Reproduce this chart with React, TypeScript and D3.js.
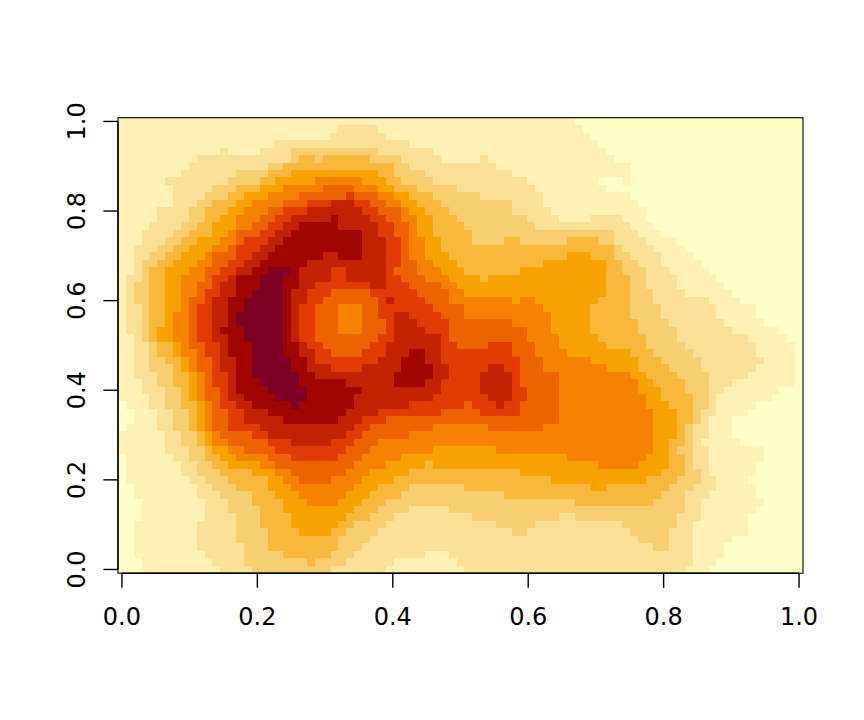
import React from "react";
import * as d3 from "d3";

// Each row (top to bottom) lists runs "level:endColumn"; whatever remains up to the last column is level 0.
const rows: string[] = [
  "1:58",
  "1:28,2:33,1:59",
  "1:27,2:34,1:60",
  "1:20,2:37,1:61",
  "1:13,2:14,1:18,2:22,3:33,2:40,1:62",
  "1:10,2:22,3:23,4:25,3:26,4:32,3:36,2:41,1:46,2:47,1:63",
  "1:9,2:19,3:21,4:35,3:37,2:48,1:65",
  "1:8,2:15,3:19,4:22,5:33,4:35,3:39,2:50,1:65",
  "1:6,2:14,3:18,4:20,5:25,6:31,5:34,4:36,3:40,2:52,1:61,0:64,1:65",
  "1:7,2:12,3:15,4:18,5:21,6:26,7:30,6:33,5:35,4:38,3:43,2:53,1:62",
  "1:7,2:11,3:14,4:16,5:19,6:23,7:29,8:30,7:33,6:35,5:37,4:40,3:46,2:54,1:65",
  "1:7,2:10,3:12,4:15,5:17,6:21,7:24,8:27,9:30,8:32,7:34,6:36,5:38,4:41,3:50,2:54,1:66",
  "1:5,2:9,3:11,4:14,5:16,6:19,7:21,8:24,9:31,8:33,7:36,6:37,5:39,4:42,3:50,2:55,1:67",
  "1:5,2:9,3:11,4:13,5:15,6:18,7:20,8:22,9:27,10:28,9:32,8:34,7:36,6:38,5:40,4:43,3:52,2:56,1:60,2:64,1:67",
  "1:4,2:8,3:10,4:12,5:15,6:17,7:19,8:21,9:23,10:28,9:33,8:35,7:37,6:38,5:40,4:44,3:53,2:65,1:68",
  "1:3,2:7,3:9,4:12,5:14,6:15,7:18,8:20,9:22,10:31,9:33,8:35,7:37,6:38,5:40,4:45,3:63,2:66,1:69",
  "1:3,2:6,3:8,4:10,5:13,6:15,7:16,8:19,9:21,10:31,9:34,8:36,7:37,6:39,5:41,4:45,3:49,4:51,3:57,4:61,3:63,2:67,1:71",
  "1:2,2:5,3:7,4:9,5:12,6:14,7:15,8:18,9:20,10:31,9:34,8:36,7:37,6:39,5:41,4:63,3:64,2:68,1:72",
  "1:2,2:4,3:6,4:8,5:11,6:12,7:15,8:17,9:19,10:26,9:28,10:31,9:34,8:36,7:37,6:39,5:42,4:57,5:60,4:63,3:65,2:69,1:73",
  "1:2,2:3,3:5,4:7,5:10,6:12,7:14,8:16,9:18,10:24,9:34,8:36,7:38,6:40,5:43,4:54,5:62,4:64,3:66,2:69,1:74",
  "1:2,2:3,3:4,4:6,5:9,6:11,7:13,8:15,9:17,10:19,11:22,10:23,9:27,8:29,9:34,8:35,7:38,6:41,5:44,4:51,5:62,4:64,3:67,2:70,1:75",
  "1:1,2:3,3:4,4:6,5:8,6:11,7:12,8:14,9:15,10:18,11:21,10:23,9:27,8:29,9:34,8:36,7:39,6:42,5:46,4:47,5:62,4:65,3:67,2:71,1:76",
  "1:1,2:2,3:4,4:6,5:8,6:10,7:12,8:13,9:15,10:18,11:21,10:23,9:25,8:32,9:34,8:37,7:41,6:43,5:62,4:65,3:67,2:71,1:77",
  "1:1,2:2,3:4,4:6,5:8,6:10,7:11,8:13,9:15,10:17,11:21,10:22,9:24,8:27,7:32,8:38,7:42,6:44,5:62,4:65,3:68,2:72,1:78",
  "1:1,2:2,3:4,4:6,5:8,6:9,7:11,8:12,9:14,10:16,11:21,10:22,9:24,8:26,7:33,8:34,9:35,8:39,7:42,6:50,5:51,6:53,5:61,4:65,3:68,2:75,1:79",
  "1:1,2:3,3:4,4:6,5:8,6:9,7:10,8:12,9:14,10:16,11:21,10:22,9:23,8:25,7:28,6:31,7:33,8:40,7:44,6:54,5:60,4:65,3:69,2:76,1:81",
  "1:1,2:3,3:4,4:6,5:7,6:9,7:10,8:12,9:14,10:15,11:21,10:22,9:23,8:25,7:28,6:31,7:33,8:35,9:37,8:41,7:44,6:55,5:60,4:65,3:69,2:76,1:81",
  "1:1,2:3,3:4,4:6,5:7,6:9,7:10,8:12,9:14,10:15,11:21,10:22,9:23,8:25,7:28,6:31,7:34,8:35,9:38,8:42,7:50,6:55,5:60,4:66,3:70,2:77,1:82",
  "1:1,2:3,3:4,4:5,5:7,6:9,7:10,8:12,9:13,10:16,11:21,10:22,9:23,8:25,7:28,6:31,7:34,8:35,9:39,8:42,7:52,6:55,5:60,4:66,3:71,2:78,1:84",
  "1:2,2:3,3:4,4:5,5:7,6:9,7:10,8:12,9:14,10:16,11:21,10:22,9:23,8:25,7:33,8:35,9:41,8:42,7:52,6:56,5:61,4:67,3:71,2:80,1:85",
  "1:2,2:4,3:5,4:7,5:8,6:9,7:11,8:13,9:14,10:17,11:21,10:23,9:24,8:26,7:32,8:34,9:41,8:43,7:47,8:50,7:53,6:56,5:62,4:67,3:72,2:81,1:86",
  "1:2,2:4,3:5,4:7,5:8,6:10,7:11,8:13,9:14,10:17,11:21,10:23,9:25,8:27,7:31,8:34,9:37,10:39,9:41,8:50,7:53,6:57,5:65,4:68,3:73,2:81,1:86",
  "1:2,2:4,3:6,4:8,5:9,6:10,7:12,8:13,9:15,10:17,11:22,10:24,9:25,8:33,9:36,10:39,9:41,8:51,7:54,6:60,5:66,4:69,3:74,2:82,1:86",
  "1:2,2:4,3:7,4:8,5:9,6:10,7:12,8:13,9:15,10:17,11:22,10:24,9:27,8:31,9:36,10:40,9:42,8:47,9:49,8:51,7:54,6:62,5:66,4:70,3:74,2:81,1:86",
  "1:2,2:5,3:7,4:9,5:10,6:11,7:12,8:14,9:15,10:17,11:23,10:25,9:35,10:40,9:42,8:46,9:50,8:51,7:56,6:65,5:67,4:71,3:75,2:80,1:86",
  "1:3,2:5,3:7,4:9,5:10,6:11,7:12,8:14,9:15,10:18,11:23,10:29,9:35,10:39,9:41,8:46,9:50,8:51,7:56,6:66,5:68,4:72,3:75,2:78,1:86",
  "1:3,2:6,3:8,4:9,5:10,6:11,7:13,8:14,9:15,10:19,11:24,10:31,9:41,8:46,9:50,8:52,7:56,6:66,5:69,4:72,3:75,2:77,1:84",
  "1:4,2:6,3:8,4:9,5:10,6:11,7:13,8:14,9:16,10:20,11:24,10:30,9:40,8:47,9:50,8:52,7:56,6:67,5:69,4:73,3:75,2:76,1:83",
  "0:1,1:4,2:6,3:8,4:10,5:11,6:12,7:13,8:15,9:17,10:22,11:23,10:30,9:37,8:44,7:45,8:48,9:49,8:51,7:56,6:67,5:70,4:73,3:75,2:76,1:81",
  "0:2,1:5,2:7,3:9,4:10,5:11,6:12,7:14,8:16,9:19,10:29,9:33,8:41,7:46,8:51,7:56,6:68,5:71,4:73,3:74,2:76,1:80",
  "0:2,1:5,2:7,3:9,4:10,5:11,6:12,7:14,8:16,9:21,10:28,9:31,8:34,7:56,6:68,5:71,4:73,3:74,2:75,1:78",
  "0:1,1:5,2:7,3:9,4:10,5:11,6:12,7:14,8:18,9:30,8:32,7:40,6:47,7:54,6:68,5:71,4:72,3:73,2:75,1:78",
  "1:6,2:8,3:10,4:11,5:12,6:13,7:17,8:19,9:29,8:31,7:37,6:68,5:71,4:72,3:73,2:75,1:78",
  "1:6,2:8,3:10,4:11,5:12,6:14,7:19,8:22,9:27,8:30,7:33,6:68,5:70,4:72,3:73,2:74,1:79",
  "1:6,2:9,3:11,4:12,5:14,6:16,7:20,8:29,7:32,6:40,5:48,6:68,5:70,4:71,3:73,2:75,1:82",
  "0:1,1:7,2:9,3:11,4:13,5:15,6:19,7:22,8:28,7:31,6:36,5:57,6:67,5:70,4:72,3:73,2:75,1:82",
  "0:1,1:8,2:10,3:12,4:14,5:18,6:20,7:30,6:34,5:39,4:40,5:61,6:66,5:70,4:72,3:73,2:75,1:81",
  "0:1,1:8,2:10,3:13,4:17,5:20,6:22,7:29,6:32,5:37,4:51,5:69,4:72,3:74,2:75,1:81",
  "0:1,1:9,2:11,3:14,4:19,5:21,6:23,7:27,6:31,5:35,4:55,5:67,4:71,3:74,2:76,1:80",
  "0:2,1:10,2:12,3:15,4:19,5:22,6:30,5:33,4:37,3:44,4:60,5:62,4:70,3:73,2:76,1:81",
  "0:2,1:10,2:13,3:17,4:20,5:23,6:29,5:32,4:36,3:49,4:69,3:72,2:75,1:81",
  "0:3,1:11,2:14,3:17,4:21,5:24,6:28,5:31,4:34,3:58,4:68,3:72,2:74,1:82",
  "0:3,1:11,2:14,3:18,4:21,5:30,4:33,3:37,2:42,3:72,2:74,1:81",
  "0:3,1:11,2:15,3:18,4:22,5:29,4:32,3:35,2:45,3:56,2:58,3:71,2:74,1:80",
  "0:2,1:10,2:15,3:18,4:22,5:28,4:30,3:34,2:48,3:53,2:64,3:71,2:73,1:80",
  "0:2,1:10,2:15,3:19,4:23,5:27,4:29,3:33,2:50,3:52,2:65,3:70,2:73,1:80",
  "0:2,1:10,2:15,3:19,4:28,3:32,2:66,3:70,2:73,1:78",
  "0:2,1:10,2:16,3:19,4:28,3:31,2:68,3:70,2:73,1:77",
  "0:2,1:11,2:16,3:21,4:27,3:30,2:39,1:42,2:73,1:77",
  "0:3,1:12,2:16,3:24,4:25,3:29,2:35,1:43,2:73,1:76",
  "0:3,1:13,2:17,3:27,2:34,1:44,2:72,1:75",
];

const palette = [
  "#FFFFC8", "#FEF1B4", "#FBE097", "#F7CF70", "#F8B83B", "#F6A200",
  "#F58300", "#ED6300", "#E03B00", "#C32200", "#A10500", "#7D0025",
];

const tickValues = [0, 0.2, 0.4, 0.6, 0.8, 1];
const nCols = 87;
const nRows = rows.length;

function expand(row: string): number[] {
  const out: number[] = new Array(nCols).fill(0);
  let start = 0;
  row.split(",").forEach((tok) => {
    const [lvl, end] = tok.split(":").map(Number);
    for (let i = start; i < end; i++) out[i] = lvl;
    start = end;
  });
  return out;
}

const left = 118;
const right = 803;
const top = 117.7;
const bottom = 573.2;
const INK = "#000";
const FONT = "'DejaVu Sans', sans-serif";

export default function App() {
  const xs = d3.scaleLinear().domain([-0.5 / (nCols - 1), 1 + 0.5 / (nCols - 1)]).range([left, right]);
  const ys = d3.scaleLinear().domain([-0.5 / (nRows - 1), 1 + 0.5 / (nRows - 1)]).range([bottom, top]);
  const colX = d3.scaleLinear().domain([0, nCols]).range([left, right]);
  const rowY = d3.scaleLinear().domain([0, nRows]).range([top, bottom]);
  const colour = d3.scaleOrdinal<number, string>().domain(d3.range(palette.length)).range(palette);
  const fmt = d3.format(".1f");
  const grid = rows.map(expand);

  return (
    <svg width={864} height={720} style={{ position: "absolute", left: 0, top: 0, background: "#fff" }}>
      <g shapeRendering="crispEdges">
        {grid.map((cells, r) =>
          cells.map((lvl, c) => (
            <rect
              key={`${r}-${c}`}
              x={colX(c)}
              y={rowY(r)}
              width={colX(c + 1) - colX(c)}
              height={rowY(r + 1) - rowY(r)}
              fill={colour(lvl)}
            />
          ))
        )}
      </g>
      <rect x={left} y={top} width={right - left} height={bottom - top} fill="none" stroke={INK} strokeWidth={1.1} />
      <g stroke={INK} strokeWidth={1.4} fill="none">
        <line x1={xs(0)} x2={xs(1)} y1={bottom} y2={bottom} />
        {tickValues.map((t) => (
          <line key={t} x1={xs(t)} x2={xs(t)} y1={bottom} y2={bottom + 14.6} />
        ))}
        <line y1={ys(0)} y2={ys(1)} x1={left} x2={left} />
        {tickValues.map((t) => (
          <line key={t} y1={ys(t)} y2={ys(t)} x1={left} x2={left - 14.6} />
        ))}
      </g>
      <g fontFamily={FONT} fontSize={24} fill={INK} textAnchor="middle">
        {tickValues.map((t) => (
          <text key={t} x={xs(t)} y={625}>{fmt(t)}</text>
        ))}
        {tickValues.map((t) => (
          <text key={t} transform={`translate(85,${ys(t)}) rotate(-90)`}>{fmt(t)}</text>
        ))}
      </g>
    </svg>
  );
}
